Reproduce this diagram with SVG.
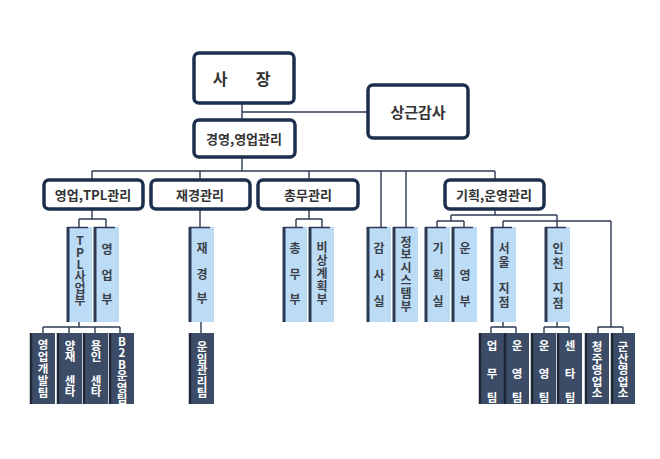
<svg xmlns="http://www.w3.org/2000/svg" width="660" height="459" viewBox="0 0 660 459">
  <defs>
    <style>
      .main rect { fill: #ffffff; stroke: #1c2f4d; stroke-width: 3.5; }
      .main text { font-family: "Noto Sans CJK KR", "Noto Sans", sans-serif; font-weight: bold; fill: #333333; text-anchor: middle; dominant-baseline: central; }
      .dept rect.body { fill: #bcdcf6; }
      .dept line { stroke: #2b3a52; }
      .dept text { font-family: "Noto Sans CJK KR", "Noto Sans", sans-serif; font-weight: bold; font-size: 12px; fill: #3a3f48; text-anchor: middle; dominant-baseline: central; }
      .team rect.body { fill: #3d4c66; }
      .team line { stroke: #1d2738; }
      .team text { font-family: "Noto Sans CJK KR", "Noto Sans", sans-serif; font-weight: bold; font-size: 11.5px; fill: #ffffff; text-anchor: middle; dominant-baseline: central; }
      /* stacked (top-to-bottom) labels */
      text.v { writing-mode: vertical-rl; text-orientation: upright; text-anchor: start; }
      #connectors path { fill: none; stroke: #2b3a52; stroke-width: 1.4; }
    </style>
  </defs>
  <rect width="660" height="459" fill="#ffffff"/>

  <!-- connectors -->
  <g id="connectors">
    <path d="M242 104 V119"/>
    <path d="M242 112 H367"/>
    <path d="M242 157 V171"/>
    <path d="M92 171 H495"/>
    <path d="M92 171 V179 M200 171 V179 M309 171 V179 M495 171 V179"/>
    <path d="M381 171 V227 M406 171 V227"/>
    <!-- 영업,TPL관리 -->
    <path d="M92 209 V219 M79 219 H106 M79 219 V227 M106 219 V227"/>
    <!-- 재경관리 -->
    <path d="M200 209 V227"/>
    <!-- 총무관리 -->
    <path d="M309 209 V219 M296 219 H322 M296 219 V227 M322 219 V227"/>
    <!-- 기획,운영관리 -->
    <path d="M495 209 V215 M451 215 H557 M451 215 V221 M437 221 H464 M437 221 V227 M464 221 V227 M557 215 V227"/>
    <path d="M503 221 H611 M503 221 V227 M611 221 V327"/>
    <!-- lower teams -->
    <path d="M79 322 V327 M43 327 H120 M43 327 V333 M69 327 V333 M95 327 V333 M120 327 V333"/>
    <path d="M201 322 V333"/>
    <path d="M503 322 V327 M491 327 H516 M491 327 V333 M516 327 V333"/>
    <path d="M557 322 V327 M544 327 H569 M544 327 V333 M569 327 V333"/>
    <path d="M598 327 H623 M598 327 V333 M623 327 V333"/>
  </g>

  <!-- top level -->
  <g id="ceo" class="main">
    <rect x="194" y="53" width="100" height="50" rx="5"/>
    <text x="220" y="78" font-size="16">사</text>
    <text x="263" y="78" font-size="16">장</text>
  </g>
  <g id="auditor" class="main">
    <rect x="368" y="85" width="100" height="53" rx="5"/>
    <text x="418" y="111" font-size="15">상근감사</text>
  </g>
  <g id="mgmt" class="main">
    <rect x="194" y="120" width="101" height="37" rx="5"/>
    <text x="244" y="138" font-size="13">경영,영업관리</text>
  </g>

  <!-- second level -->
  <g id="sales-tpl" class="main">
    <rect x="44" y="180" width="99" height="29" rx="5"/>
    <text x="93" y="194.5" font-size="13">영업,TPL관리</text>
  </g>
  <g id="finance" class="main">
    <rect x="151" y="180" width="99" height="29" rx="5"/>
    <text x="200" y="194.5" font-size="13">재경관리</text>
  </g>
  <g id="general" class="main">
    <rect x="258" y="180" width="100" height="29" rx="5"/>
    <text x="308" y="194.5" font-size="13">총무관리</text>
  </g>
  <g id="planning" class="main">
    <rect x="445" y="180" width="99" height="29" rx="5"/>
    <text x="494" y="194.5" font-size="13">기획,운영관리</text>
  </g>

  <!-- departments -->
  <g id="tpl-biz" class="dept">
    <rect class="body" x="67" y="227" width="25" height="95"/>
    <line x1="68" y1="227" x2="68" y2="322" stroke-width="3"/>
    <line x1="67" y1="227.5" x2="88" y2="227.5" stroke-width="1.5"/>
    <text class="v" x="80" y="234">TPL사업부</text>
  </g>
  <g id="sales-dept" class="dept">
    <rect class="body" x="94" y="227" width="25" height="95"/>
    <line x1="95" y1="227" x2="95" y2="322" stroke-width="3"/>
    <line x1="94" y1="227.5" x2="115" y2="227.5" stroke-width="1.5"/>
    <text x="107" y="248">영</text><text x="107" y="274">업</text><text x="107" y="298">부</text>
  </g>
  <g id="finance-dept" class="dept">
    <rect class="body" x="189" y="227" width="25" height="95"/>
    <line x1="190" y1="227" x2="190" y2="322" stroke-width="3"/>
    <line x1="189" y1="227.5" x2="210" y2="227.5" stroke-width="1.5"/>
    <text x="202" y="247">재</text><text x="202" y="273">경</text><text x="202" y="297">부</text>
  </g>
  <g id="general-dept" class="dept">
    <rect class="body" x="283" y="227" width="24" height="95"/>
    <line x1="284" y1="227" x2="284" y2="322" stroke-width="3"/>
    <line x1="283" y1="227.5" x2="303" y2="227.5" stroke-width="1.5"/>
    <text x="295" y="247">총</text><text x="295" y="273">무</text><text x="295" y="298">부</text>
  </g>
  <g id="emergency-dept" class="dept">
    <rect class="body" x="309" y="227" width="25" height="95"/>
    <line x1="310" y1="227" x2="310" y2="322" stroke-width="3"/>
    <line x1="309" y1="227.5" x2="330" y2="227.5" stroke-width="1.5"/>
    <text class="v" x="322" y="241" letter-spacing="1">비상계획부</text>
  </g>
  <g id="audit-office" class="dept">
    <rect class="body" x="367" y="227" width="24" height="95"/>
    <line x1="368" y1="227" x2="368" y2="322" stroke-width="3"/>
    <line x1="367" y1="227.5" x2="387" y2="227.5" stroke-width="1.5"/>
    <text x="379" y="247">감</text><text x="379" y="274">사</text><text x="379" y="300">실</text>
  </g>
  <g id="it-dept" class="dept">
    <rect class="body" x="393" y="227" width="25" height="95"/>
    <line x1="394" y1="227" x2="394" y2="322" stroke-width="3"/>
    <line x1="393" y1="227.5" x2="414" y2="227.5" stroke-width="1.5"/>
    <text class="v" x="406" y="236" letter-spacing="0.8">정보시스템부</text>
  </g>
  <g id="planning-office" class="dept">
    <rect class="body" x="425" y="227" width="25" height="95"/>
    <line x1="426" y1="227" x2="426" y2="322" stroke-width="3"/>
    <line x1="425" y1="227.5" x2="446" y2="227.5" stroke-width="1.5"/>
    <text x="438" y="247">기</text><text x="438" y="274">획</text><text x="438" y="300">실</text>
  </g>
  <g id="operations-dept" class="dept">
    <rect class="body" x="452" y="227" width="25" height="95"/>
    <line x1="453" y1="227" x2="453" y2="322" stroke-width="3"/>
    <line x1="452" y1="227.5" x2="473" y2="227.5" stroke-width="1.5"/>
    <text x="465" y="247">운</text><text x="465" y="274">영</text><text x="465" y="300">부</text>
  </g>
  <g id="seoul-branch" class="dept">
    <rect class="body" x="491" y="227" width="25" height="95"/>
    <line x1="492" y1="227" x2="492" y2="322" stroke-width="3"/>
    <line x1="491" y1="227.5" x2="512" y2="227.5" stroke-width="1.5"/>
    <text class="v" x="504" y="242" letter-spacing="2">서울</text>
    <text class="v" x="504" y="282" letter-spacing="2">지점</text>
  </g>
  <g id="incheon-branch" class="dept">
    <rect class="body" x="545" y="227" width="25" height="95"/>
    <line x1="546" y1="227" x2="546" y2="322" stroke-width="3"/>
    <line x1="545" y1="227.5" x2="566" y2="227.5" stroke-width="1.5"/>
    <text class="v" x="558" y="242" letter-spacing="3">인천</text>
    <text class="v" x="558" y="282" letter-spacing="3">지점</text>
  </g>

  <!-- teams -->
  <g id="sales-dev-team" class="team">
    <rect class="body" x="30" y="333" width="25" height="71"/>
    <line x1="31" y1="333" x2="31" y2="404" stroke-width="2.5"/>
    <text class="v" x="43" y="339" letter-spacing="0.5">영업개발팀</text>
  </g>
  <g id="yangjae-center" class="team">
    <rect class="body" x="57" y="333" width="25" height="71"/>
    <line x1="58" y1="333" x2="58" y2="404" stroke-width="2.5"/>
    <text class="v" x="70" y="339.5" font-size="11">양재</text>
    <text class="v" x="70" y="374.5" font-size="11">센타</text>
  </g>
  <g id="yongin-center" class="team">
    <rect class="body" x="83" y="333" width="25" height="71"/>
    <line x1="84" y1="333" x2="84" y2="404" stroke-width="2.5"/>
    <text class="v" x="96" y="339.5" font-size="11">용인</text>
    <text class="v" x="96" y="374.5" font-size="11">센타</text>
  </g>
  <g id="b2b-team" class="team">
    <rect class="body" x="109" y="333" width="25" height="71"/>
    <line x1="110" y1="333" x2="110" y2="404" stroke-width="2.5"/>
    <text class="v" x="122" y="335.5" font-size="11">B2B운영팀</text>
  </g>
  <g id="freight-team" class="team">
    <rect class="body" x="189" y="333" width="25" height="71"/>
    <line x1="190" y1="333" x2="190" y2="404" stroke-width="2.5"/>
    <text class="v" x="202" y="341">운임관리팀</text>
  </g>
  <g id="seoul-biz-team" class="team">
    <rect class="body" x="479" y="333" width="25" height="71"/>
    <line x1="480" y1="333" x2="480" y2="404" stroke-width="2.5"/>
    <text x="492" y="345">업</text><text x="492" y="373">무</text><text x="492" y="397">팀</text>
  </g>
  <g id="seoul-ops-team" class="team">
    <rect class="body" x="504" y="333" width="25" height="71"/>
    <line x1="505" y1="333" x2="505" y2="404" stroke-width="2.5"/>
    <text x="517" y="345">운</text><text x="517" y="373">영</text><text x="517" y="397">팀</text>
  </g>
  <g id="incheon-ops-team" class="team">
    <rect class="body" x="531" y="333" width="25" height="71"/>
    <line x1="532" y1="333" x2="532" y2="404" stroke-width="2.5"/>
    <text x="544" y="345">운</text><text x="544" y="373">영</text><text x="544" y="397">팀</text>
  </g>
  <g id="incheon-center-team" class="team">
    <rect class="body" x="557" y="333" width="25" height="71"/>
    <line x1="558" y1="333" x2="558" y2="404" stroke-width="2.5"/>
    <text x="570" y="345">센</text><text x="570" y="373">타</text><text x="570" y="397">팀</text>
  </g>
  <g id="cheongju-office" class="team">
    <rect class="body" x="585" y="333" width="24" height="71"/>
    <line x1="586" y1="333" x2="586" y2="404" stroke-width="2.5"/>
    <text class="v" x="597" y="341">청주영업소</text>
  </g>
  <g id="gunsan-office" class="team">
    <rect class="body" x="611" y="333" width="24" height="71"/>
    <line x1="612" y1="333" x2="612" y2="404" stroke-width="2.5"/>
    <text class="v" x="623" y="341">군산영업소</text>
  </g>
</svg>
